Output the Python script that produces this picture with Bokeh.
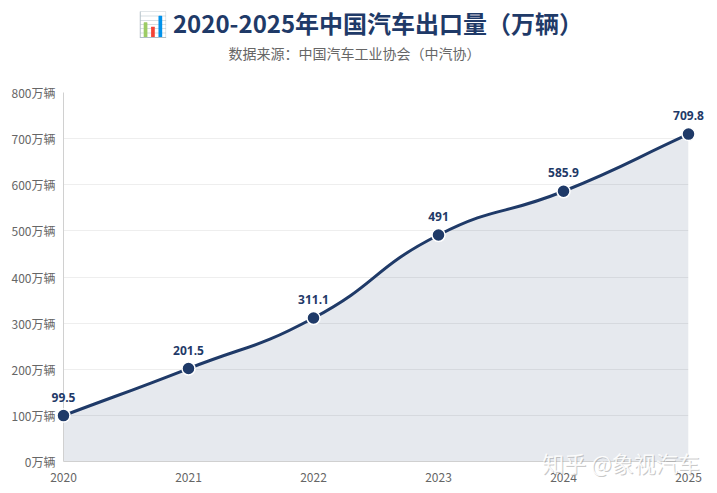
import numpy as np
from bokeh.plotting import figure
from bokeh.models import ColumnDataSource, FixedTicker
from bokeh.core.properties import value
from bokeh.embed import file_html
from bokeh.resources import INLINE

years = [2020, 2021, 2022, 2023, 2024, 2025]
exports = [99.5, 201.5, 311.1, 491.0, 585.9, 709.8]
value_labels = ["99.5", "201.5", "311.1", "491", "585.9", "709.8"]
y_ticks = [0, 100, 200, 300, 400, 500, 600, 700, 800]
y_tick_labels = ["0万辆", "100万辆", "200万辆", "300万辆", "400万辆", "500万辆", "600万辆", "700万辆", "800万辆"]
x_tick_labels = ["2020", "2021", "2022", "2023", "2024", "2025"]
title_text = ["📊 2020-2025年中国汽车出口量（万辆）"]
subtitle_text = ["数据来源：中国汽车工业协会（中汽协）"]
watermark_text = ["知乎 @象视汽车"]

FONT = "Noto Sans CJK SC"
NAVY = "#1f3a68"

FW, FH = 625, 369
BL, BR, BT, BB = 63, 29, 92, 32
XR = (2020, 2025)
YR = (0, 800)


def smooth_controls(xs, ys, smooth=0.5):
    # echarts-like bezier smoothing computed in pixel space
    px = [(x - XR[0]) / (XR[1] - XR[0]) * FW for x in xs]
    py = [(y - YR[0]) / (YR[1] - YR[0]) * FH for y in ys]
    n = len(px)
    cpl, cpr = [], []
    for i in range(n):
        pxp, pyp = (px[i - 1], py[i - 1]) if i > 0 else (px[i], py[i])
        pxn, pyn = (px[i + 1], py[i + 1]) if i < n - 1 else (px[i], py[i])
        vx, vy = pxn - pxp, pyn - pyp
        d0 = np.hypot(px[i] - pxp, py[i] - pyp)
        d1 = np.hypot(pxn - px[i], pyn - py[i])
        s = d0 + d1
        r0, r1 = (d0 / s, d1 / s) if s > 0 else (0, 0)
        cpl.append((px[i] - vx * smooth * r0, py[i] - vy * smooth * r0))
        cpr.append((px[i] + vx * smooth * r1, py[i] + vy * smooth * r1))
    tox = lambda v: XR[0] + v / FW * (XR[1] - XR[0])
    toy = lambda v: YR[0] + v / FH * (YR[1] - YR[0])
    segs = dict(x0=[], y0=[], x1=[], y1=[], cx0=[], cy0=[], cx1=[], cy1=[])
    for i in range(n - 1):
        segs["x0"].append(xs[i]); segs["y0"].append(ys[i])
        segs["x1"].append(xs[i + 1]); segs["y1"].append(ys[i + 1])
        segs["cx0"].append(tox(cpr[i][0])); segs["cy0"].append(toy(cpr[i][1]))
        segs["cx1"].append(tox(cpl[i + 1][0])); segs["cy1"].append(toy(cpl[i + 1][1]))
    return segs


segs = smooth_controls(years, exports)

# outline for the area fill, traced along the same bezier segments
ax, ay = [], []
t = np.linspace(0, 1, 40)
for i in range(len(segs["x0"])):
    P = [(segs["x0"][i], segs["y0"][i]), (segs["cx0"][i], segs["cy0"][i]),
         (segs["cx1"][i], segs["cy1"][i]), (segs["x1"][i], segs["y1"][i])]
    bx = ((1 - t) ** 3) * P[0][0] + 3 * ((1 - t) ** 2) * t * P[1][0] + 3 * (1 - t) * t * t * P[2][0] + t ** 3 * P[3][0]
    by = ((1 - t) ** 3) * P[0][1] + 3 * ((1 - t) ** 2) * t * P[1][1] + 3 * (1 - t) * t * t * P[2][1] + t ** 3 * P[3][1]
    ax.extend(bx.tolist()); ay.extend(by.tolist())

p = figure(frame_width=FW, frame_height=FH, x_range=XR, y_range=YR, output_backend="svg",
           toolbar_location=None, min_border_left=BL, min_border_right=BR,
           min_border_top=BT, min_border_bottom=BB)
p.outline_line_color = None
p.background_fill_color = "white"


def unclip(r):
    try:
        r.clip = False
    except Exception:
        pass
    r.level = "overlay"
    return r


p.varea(x=ax, y1=[0] * len(ax), y2=ay, fill_color=NAVY, fill_alpha=0.11)
p.bezier(x0="x0", y0="y0", x1="x1", y1="y1", cx0="cx0", cy0="cy0", cx1="cx1", cy1="cy1",
         source=ColumnDataSource(segs), line_color=NAVY, line_width=3)

src = ColumnDataSource(dict(x=years, y=exports, lab=value_labels))
unclip(p.scatter(x="x", y="y", source=src, size=13, fill_color=NAVY, line_color="white", line_width=1.5))
unclip(p.text(x="x", y="y", text="lab", source=src, y_offset=-14, text_align="center",
              text_baseline="bottom", text_font=value("Noto Sans"), text_font_size="12px",
              text_font_style="bold", text_color=NAVY))

# title and subtitle, anchored to the top-left corner of the plot area
unclip(p.text(x=[XR[0]], y=[YR[1]], text=title_text, x_offset=74, y_offset=-70,
              text_align="left", text_baseline="middle", text_font=value(FONT),
              text_font_size="24px", text_font_style="bold", text_color=NAVY))
unclip(p.text(x=[XR[0]], y=[YR[1]], text=subtitle_text, x_offset=165, y_offset=-40,
              text_align="left", text_baseline="middle", text_font=value(FONT),
              text_font_size="14px", text_color="#666666"))

# watermark (white text with soft grey shadow)
unclip(p.text(x=[2024.46], y=[YR[0]], text=watermark_text, x_offset=1, y_offset=1,
              text_align="center", text_baseline="middle", text_font=value(FONT),
              text_font_size="22px", text_color="#9a9a9a", text_alpha=0.55))
unclip(p.text(x=[2024.46], y=[YR[0]], text=watermark_text, y_offset=0,
              text_align="center", text_baseline="middle", text_font=value(FONT),
              text_font_size="22px", text_color="#ffffff", text_alpha=0.9))

# axes
p.yaxis.ticker = FixedTicker(ticks=y_ticks)
p.yaxis.major_label_overrides = {t_: l for t_, l in zip(y_ticks, y_tick_labels)}
p.xaxis.ticker = FixedTicker(ticks=years)
p.xaxis.major_label_overrides = {y_: l for y_, l in zip(years, x_tick_labels)}
for a in (p.xaxis[0], p.yaxis[0]):
    a.major_tick_line_color = None
    a.minor_tick_line_color = None
    a.major_tick_out = 0
    a.major_tick_in = 0
    a.minor_tick_out = 0
    a.minor_tick_in = 0
    a.major_label_text_font = FONT
    a.major_label_text_font_size = "12px"
    a.major_label_text_color = "#666666"
    a.axis_line_color = "#d0d0d0"
p.yaxis.major_label_standoff = 8
p.xaxis.major_label_standoff = 11
p.xgrid.grid_line_color = None
p.ygrid.grid_line_color = "#eeeeee"

open("out.html", "w").write(file_html(p, INLINE))
